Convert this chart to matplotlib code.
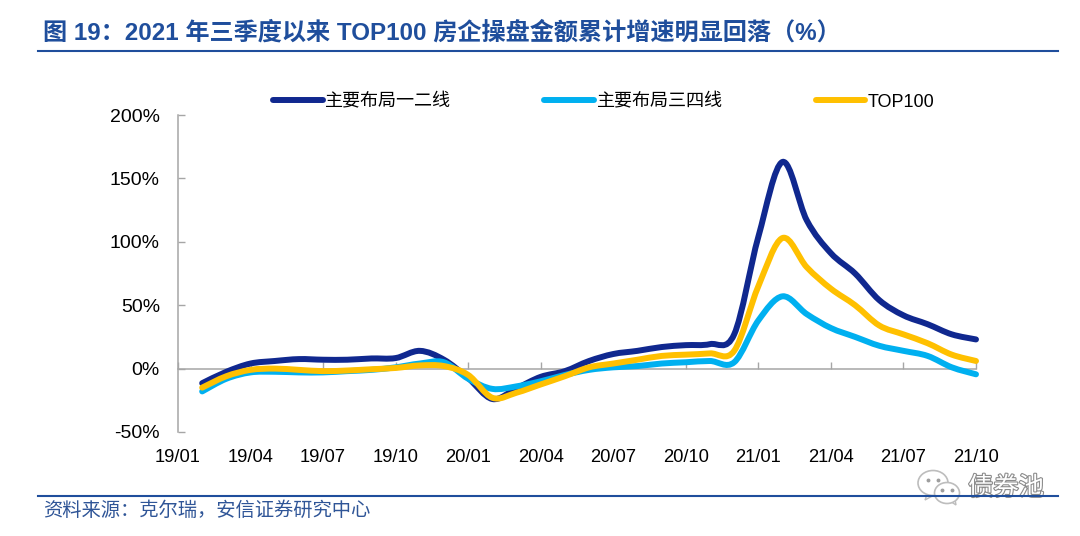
import matplotlib
matplotlib.use('Agg')
import matplotlib.pyplot as plt
import matplotlib.patheffects as pe
from matplotlib.lines import Line2D
from matplotlib.patches import Ellipse, PathPatch, Polygon
from matplotlib.path import Path

plt.rcParams['font.family'] = ['Liberation Sans', 'Noto Sans CJK SC']

W, H = 1080, 536

# months counted from 19/01, data starts at 19/02
months = list(range(1, 34))
tick_pos = [0, 3, 6, 9, 12, 15, 18, 21, 24, 27, 30, 33]
tick_labels = ['19/01', '19/04', '19/07', '19/10', '20/01', '20/04',
               '20/07', '20/10', '21/01', '21/04', '21/07', '21/10']
y_ticks = [-50, 0, 50, 100, 150, 200]

tier12 = [-11.5, -2.5, 4, 6, 7.5, 7, 7, 8, 8.3, 14, 7, -7.5, -24, -15.5, -6.5, -2,
          6, 11.5, 14, 17, 18.5, 19.3, 27, 104, 163, 117, 91, 75, 54, 42, 35, 27, 23]
tier34 = [-18, -8, -3, -2.5, -3, -3, -2, -1, 1, 4, 5, -8, -16, -14, -10, -5,
          -1, 1, 2, 4, 5, 6, 5, 38, 57, 43, 32, 25, 18, 14, 10, 1, -4.5]
top100 = [-15, -6, -1, 0, -1, -2, -1.5, -0.5, 0.5, 2.5, 2, -5, -23, -19, -12.5, -6,
          1, 4, 7, 10, 11, 12, 14, 65, 103, 80, 63, 50, 34, 27, 20, 11, 6]

NAVY = '#10288F'
CYAN = '#00B0F0'
GOLD = '#FFC000'
RULE = '#1F4E9C'
GRAY = '#A6A6A6'


def smooth_path(xs, ys):
    # excel style smoothed line: cubic segments with catmull-rom handles
    verts = [(xs[0], ys[0])]
    codes = [Path.MOVETO]
    n = len(xs)
    for i in range(n - 1):
        x0, y0 = (xs[i - 1], ys[i - 1]) if i > 0 else (xs[i], ys[i])
        x1, y1 = xs[i], ys[i]
        x2, y2 = xs[i + 1], ys[i + 1]
        x3, y3 = (xs[i + 2], ys[i + 2]) if i + 2 < n else (x2, y2)
        verts += [(x1 + (x2 - x0) / 6, y1 + (y2 - y0) / 6),
                  (x2 - (x3 - x1) / 6, y2 - (y3 - y1) / 6),
                  (x2, y2)]
        codes += [Path.CURVE4] * 3
    return Path(verts, codes)


def main():
    fig = plt.figure(figsize=(W / 100, H / 100), dpi=100)
    ax = fig.add_axes([178 / W, (H - 432) / H, 798 / W, 317 / H])
    ax.set_xlim(0, 33)
    ax.set_ylim(-50, 200)

    series = [(tier12, NAVY, '主要布局一二线'),
              (tier34, CYAN, '主要布局三四线'),
              (top100, GOLD, 'TOP100')]
    handles = []
    for vals, col, name in series:
        ax.add_patch(PathPatch(smooth_path(months, vals), fill=False, edgecolor=col, lw=4.3,
                               capstyle='round', joinstyle='round', clip_on=False, zorder=3))
        handles.append(Line2D([], [], color=col, lw=4.3, solid_capstyle='round', label=name))

    for s in ['top', 'right']:
        ax.spines[s].set_visible(False)
    ax.spines['bottom'].set_position(('data', 0))
    for s in ['left', 'bottom']:
        ax.spines[s].set_color(GRAY)
        ax.spines[s].set_linewidth(1.1)

    ax.set_xticks(tick_pos)
    ax.set_xticklabels(tick_labels)
    ax.set_yticks(y_ticks)
    ax.set_yticklabels([f'{v}%' for v in y_ticks])
    ax.tick_params(axis='x', direction='in', length=5, width=1, color=GRAY, labelsize=13.2, pad=58)
    ax.tick_params(axis='y', direction='in', length=5, width=1, color=GRAY, labelsize=14, pad=13)

    fig.legend(handles=handles, ncol=3, frameon=False, fontsize=13, loc='center left',
               bbox_to_anchor=(264 / W, (H - 102) / H), handlelength=2.75, handletextpad=0.15,
               columnspacing=5.15, borderaxespad=0, borderpad=0.5)

    fig.text(43 / W, (H - 33) / H, '图 19：2021 年三季度以来 TOP100 房企操盘金额累计增速明显回落（%）',
             color=RULE, fontsize=17.4, fontweight='bold', va='center', ha='left')
    fig.text(43 / W, (H - 511) / H, '资料来源：克尔瑞，安信证券研究中心',
             color='#2F5597', fontsize=13.9, va='center', ha='left')

    for py in [51, 496]:
        fig.add_artist(Line2D([38 / W, 1058 / W], [(H - py) / H] * 2, color=RULE, lw=1.5))

    # watermark
    wm = fig.add_axes([0, 0, 1, 1], facecolor='none')
    wm.set_xlim(0, W)
    wm.set_ylim(H, 0)
    wm.axis('off')
    for cx, cy, w, h, tail in [(933, 483, 30, 25, [(928, 492), (925, 500), (936, 494)]),
                               (947, 493, 25, 21, [(950, 501), (956, 505), (955, 499)])]:
        wm.add_patch(Polygon(tail, closed=True, fc='white', ec='#BDBDBD', lw=1, zorder=5))
        wm.add_patch(Ellipse((cx, cy), w, h, fc='white', ec='#BDBDBD', lw=1.2, zorder=5))
        wm.plot([cx - 5, cx + 5], [cy - 3, cy - 3], ls='none', marker='o', ms=1.8, color='#9E9E9E', zorder=6)
    wm.text(1006, 488, '债券池', fontsize=18.2, color='white', ha='center', va='center', zorder=7,
            path_effects=[pe.withStroke(linewidth=1.6, foreground='#8C8C8C')])

    fig.savefig('out.png', dpi=100)


if __name__ == '__main__':
    main()
